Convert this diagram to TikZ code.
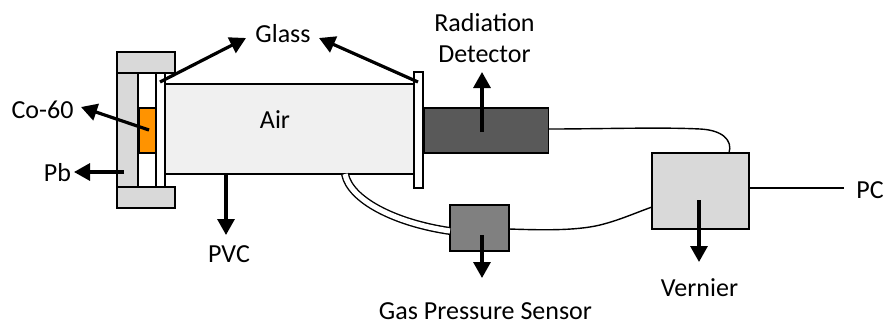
\documentclass[tikz,border=0pt]{standalone}
\usepackage{fontspec}
\setmainfont{Carlito}
\usetikzlibrary{arrows.meta}
\tikzset{
  part/.style={draw=black,line width=1.6pt,rectangle,inner sep=0pt,outer sep=0pt,minimum width=#1},
  lbl/.style={font=\fontsize{26}{30.5}\selectfont,inner sep=0pt,align=center,anchor=base},
  callout/.style={draw=black,line width=3.2pt,-{Triangle[length=16pt,width=17pt]}},
  wire/.style={draw=black,line width=1.4pt},
}
\begin{document}
\begin{tikzpicture}[x=1pt,y=-1pt]
\useasboundingbox (0,0) rectangle (885,322);
% lead shield
\node[part=58pt,minimum height=21pt,fill=black!15] (pbtop) at (146,62.5) {};
\node[part=58pt,minimum height=21pt,fill=black!15] (pbbot) at (146,197.5) {};
\node[part=21pt,minimum height=114pt,fill=black!15] (pbleft) at (127.5,130) {};
% source housing
\node[part=18pt,minimum height=114pt,fill=white] (gap) at (147,130) {};
\node[part=17pt,minimum height=45pt,fill=orange!85!yellow] (co) at (147.5,130.5) {};
\node[part=9pt,minimum height=114pt,fill=white] (glassL) at (160.5,130) {};
% tube
\node[part=249pt,minimum height=90pt,fill=black!6] (pvc) at (290,129) {};
\node[part=9pt,minimum height=116pt,fill=white] (glassR) at (418.5,130) {};
% instruments
\node[part=124pt,minimum height=45pt,fill=black!65] (det) at (486.5,130.5) {};
\node[part=59pt,minimum height=46pt,fill=black!50] (sensor) at (479.5,228) {};
\node[part=97pt,minimum height=76pt,fill=black!15] (vern) at (700.5,191) {};
% wires
\coordinate (pcend) at (844,188);
\draw[wire] (det.east) ++(0,-1.5) .. controls (600,129) and (660,127) .. (700,129) .. controls (722,130) and (733,140) .. (729,153);
\draw[wire] (vern.east |- pcend) -- (pcend);
\draw[wire] (sensor.east) ++(0,1) .. controls (540,230) and (575,231) .. (600,225) .. controls (620,220) and (635,213) .. (652,207);
% pressure hose
\draw[line width=8pt,black] (345,174) .. controls (350,200) and (395,223) .. (450,231);
\draw[line width=5.2pt,white] (345,174) .. controls (350,200) and (395,223) .. (450,231);
% labels
\node[lbl] (tglass) at (283,42) {Glass};
\node[lbl] (tair) at (275,128) {Air};
\node[lbl] (tco) at (42.5,118) {Co-60};
\node[lbl] (tpb) at (57.5,181.5) {Pb};
\node[lbl] (tpvc) at (229,262) {PVC};
\node[lbl] (tdet) at (484.5,62) {Radiation\\Detector};
\node[lbl] (tgas) at (485.5,319) {Gas Pressure Sensor};
\node[lbl] (tvern) at (699.5,296) {Vernier};
\node[lbl] (tpc) at (870,198) {PC};
% callouts
\coordinate (a1) at (160,82); \coordinate (a1e) at (246,38);
\coordinate (a2) at (418,82); \coordinate (a2e) at (319,38);
\coordinate (a3) at (149,130); \coordinate (a3e) at (81,107);
\coordinate (a4) at (124,172); \coordinate (a4e) at (74,172);
\coordinate (a5) at (226,174); \coordinate (a5e) at (226,235);
\coordinate (a6) at (482,132); \coordinate (a6e) at (482,72);
\coordinate (a7) at (482,235); \coordinate (a7e) at (482,278);
\coordinate (a8) at (699,200); \coordinate (a8e) at (699,262);
\draw[callout] (a1) -- (a1e);
\draw[callout] (a2) -- (a2e);
\draw[callout] (a3) -- (a3e);
\draw[callout] (a4) -- (a4e);
\draw[callout] (a5) -- (a5e);
\draw[callout] (a6) -- (a6e);
\draw[callout] (a7) -- (a7e);
\draw[callout] (a8) -- (a8e);
\end{tikzpicture}
\end{document}
